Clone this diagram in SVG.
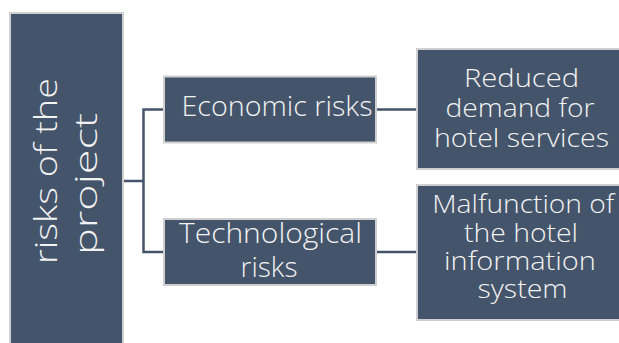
<svg xmlns="http://www.w3.org/2000/svg" width="619" height="343" viewBox="0 0 619 343">
  <style>
    .box { fill: #44546a; stroke: #cfcfcf; stroke-width: 2; }
    .lbl { fill: #f2f2f2; font-family: "Open Sans", Lato, "Liberation Sans", sans-serif; font-weight: 300; text-anchor: middle; font-variant-ligatures: none; }
    .link { fill: none; stroke: #44546a; stroke-width: 2.5; }
  </style>
  <rect width="619" height="343" fill="#ffffff"/>

  <!-- connectors -->
  <g id="connectors">
    <path class="link" d="M123 181 H143.5" stroke-width="3"/>
    <path class="link" d="M164 109.5 H143.5 V252 H164"/>
    <path class="link" d="M376 109.5 H417"/>
    <path class="link" d="M376 252 H417"/>
  </g>

  <!-- root -->
  <g id="node-project">
    <rect class="box" x="10" y="13" width="113" height="345"/>
    <text class="lbl" font-size="32" textLength="186" lengthAdjust="spacingAndGlyphs" transform="translate(57,171) rotate(-90)">risks of the</text>
    <text class="lbl" font-size="32" textLength="142" lengthAdjust="spacingAndGlyphs" transform="translate(97,184) rotate(-90)">project</text>
  </g>

  <!-- risk categories -->
  <g id="node-economic">
    <rect class="box" x="164" y="76.5" width="212" height="66"/>
    <text class="lbl" font-size="27" x="277" y="116" textLength="191" lengthAdjust="spacingAndGlyphs">Economic risks</text>
  </g>
  <g id="node-technological">
    <rect class="box" x="164" y="219" width="212" height="66"/>
    <text class="lbl" font-size="27" x="270.5" y="243" textLength="183" lengthAdjust="spacingAndGlyphs">Technological</text>
    <text class="lbl" font-size="27" x="269" y="276.5" textLength="57" lengthAdjust="spacingAndGlyphs">risks</text>
  </g>

  <!-- consequences -->
  <g id="node-demand">
    <rect class="box" x="417" y="49" width="211" height="120"/>
    <text class="lbl" font-size="25" x="521.5" y="86.5" textLength="115" lengthAdjust="spacingAndGlyphs">Reduced</text>
    <text class="lbl" font-size="25" x="520" y="116.5" textLength="149" lengthAdjust="spacingAndGlyphs">demand for</text>
    <text class="lbl" font-size="25" x="521.5" y="146.5" textLength="175" lengthAdjust="spacingAndGlyphs">hotel services</text>
  </g>
  <g id="node-malfunction">
    <rect class="box" x="417" y="185" width="211" height="135"/>
    <text class="lbl" font-size="25" x="523.3" y="213" textLength="182" lengthAdjust="spacingAndGlyphs">Malfunction of</text>
    <text class="lbl" font-size="25" x="521" y="241.5" textLength="114" lengthAdjust="spacingAndGlyphs">the hotel</text>
    <text class="lbl" font-size="25" x="520" y="270" textLength="152" lengthAdjust="spacingAndGlyphs">information</text>
    <text class="lbl" font-size="25" x="522.5" y="298" textLength="90" lengthAdjust="spacingAndGlyphs">system</text>
  </g>
</svg>
